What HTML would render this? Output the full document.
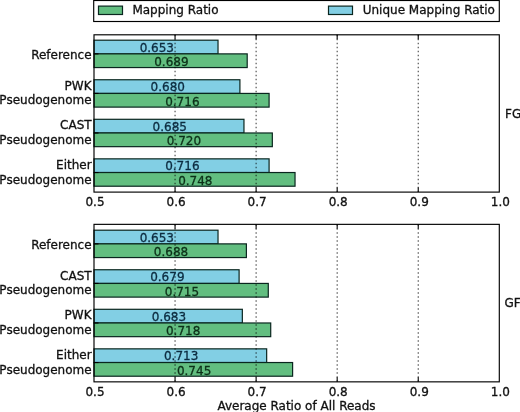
<!DOCTYPE html>
<html lang="en"><head><meta charset="utf-8"><title>Mapping Ratio</title>
<style>html,body{margin:0;padding:0;background:#fff;overflow:hidden}svg{display:block;will-change:transform}text{font-family:"DejaVu Sans","Liberation Sans",sans-serif;font-size:12px;fill:#111;stroke:#111;stroke-width:.3px}.ax{fill:none;stroke:#000;stroke-width:1.15}.tk{stroke:#000;stroke-width:1.1}.gr{stroke:#000;stroke-opacity:.72;stroke-width:1.1;stroke-dasharray:1.5 2.5}.b{fill:#82cfe4;stroke:#0a261f;stroke-width:1.2}.g{fill:#62be80;stroke:#0a261f;stroke-width:1.2}.vb{fill:#0c2c40;stroke:#0c2c40}.vg{fill:#0c3018;stroke:#0c3018}</style></head><body>
<svg width="520" height="412" viewBox="0 0 520 412">
<rect x="0" y="0" width="520" height="412" fill="#fff"/>
<rect class="ax" x="93.7" y="0.5" width="405.6" height="21"/>
<rect class="g" x="98.5" y="6.1" width="24" height="8.4"/>
<text x="132.4" y="14.3">Mapping Ratio</text>
<rect class="b" x="328.5" y="6.1" width="24" height="8.4"/>
<text x="362.7" y="14.3">Unique Mapping Ratio</text>
<rect class="b" x="94" y="40.20" width="124.02" height="13.68"/>
<rect class="g" x="94" y="53.88" width="153.20" height="13.68"/>
<rect class="b" x="94" y="79.75" width="145.91" height="13.68"/>
<rect class="g" x="94" y="93.43" width="175.09" height="13.68"/>
<rect class="b" x="94" y="119.30" width="149.96" height="13.68"/>
<rect class="g" x="94" y="132.98" width="178.33" height="13.68"/>
<rect class="b" x="94" y="158.85" width="175.09" height="13.68"/>
<rect class="g" x="94" y="172.53" width="201.03" height="13.68"/>
<line class="gr" x1="175.06" y1="34.8" x2="175.06" y2="192.1"/>
<line class="tk" x1="175.06" y1="34.8" x2="175.06" y2="39.3"/>
<line class="tk" x1="175.06" y1="192.1" x2="175.06" y2="187.6"/>
<line class="gr" x1="256.12" y1="34.8" x2="256.12" y2="192.1"/>
<line class="tk" x1="256.12" y1="34.8" x2="256.12" y2="39.3"/>
<line class="tk" x1="256.12" y1="192.1" x2="256.12" y2="187.6"/>
<line class="gr" x1="337.18" y1="34.8" x2="337.18" y2="192.1"/>
<line class="tk" x1="337.18" y1="34.8" x2="337.18" y2="39.3"/>
<line class="tk" x1="337.18" y1="192.1" x2="337.18" y2="187.6"/>
<line class="gr" x1="418.24" y1="34.8" x2="418.24" y2="192.1"/>
<line class="tk" x1="418.24" y1="34.8" x2="418.24" y2="39.3"/>
<line class="tk" x1="418.24" y1="192.1" x2="418.24" y2="187.6"/>
<text class="vb" text-anchor="middle" x="156.81" y="51.55">0.653</text>
<text class="vg" text-anchor="middle" x="171.40" y="65.98">0.689</text>
<line class="tk" x1="94" y1="53.88" x2="98.5" y2="53.88"/>
<text text-anchor="end" x="91.6" y="59.28">Reference</text>
<text class="vb" text-anchor="middle" x="167.75" y="91.10">0.680</text>
<text class="vg" text-anchor="middle" x="182.34" y="105.53">0.716</text>
<line class="tk" x1="94" y1="93.43" x2="98.5" y2="93.43"/>
<text text-anchor="end" x="91.6" y="89.63">PWK</text>
<text text-anchor="end" x="91.6" y="104.23">Pseudogenome</text>
<text class="vb" text-anchor="middle" x="169.78" y="130.65">0.685</text>
<text class="vg" text-anchor="middle" x="183.97" y="145.08">0.720</text>
<line class="tk" x1="94" y1="132.98" x2="98.5" y2="132.98"/>
<text text-anchor="end" x="91.6" y="129.38">CAST</text>
<text text-anchor="end" x="91.6" y="143.98">Pseudogenome</text>
<text class="vb" text-anchor="middle" x="182.34" y="170.20">0.716</text>
<text class="vg" text-anchor="middle" x="195.31" y="184.63">0.748</text>
<line class="tk" x1="94" y1="172.53" x2="98.5" y2="172.53"/>
<text text-anchor="end" x="91.6" y="169.13">Either</text>
<text text-anchor="end" x="91.6" y="183.73">Pseudogenome</text>
<rect class="ax" x="94" y="34.8" width="405.3" height="157.3"/>
<text text-anchor="middle" x="95.00" y="205.60">0.5</text>
<text text-anchor="middle" x="176.06" y="205.60">0.6</text>
<text text-anchor="middle" x="257.12" y="205.60">0.7</text>
<text text-anchor="middle" x="338.18" y="205.60">0.8</text>
<text text-anchor="middle" x="419.24" y="205.60">0.9</text>
<text text-anchor="middle" x="500.30" y="205.60">1.0</text>
<text x="505" y="118.05">FG</text>
<rect class="b" x="94" y="230.20" width="124.02" height="13.68"/>
<rect class="g" x="94" y="243.88" width="152.39" height="13.68"/>
<rect class="b" x="94" y="269.75" width="145.10" height="13.68"/>
<rect class="g" x="94" y="283.43" width="174.28" height="13.68"/>
<rect class="b" x="94" y="309.30" width="148.34" height="13.68"/>
<rect class="g" x="94" y="322.98" width="176.71" height="13.68"/>
<rect class="b" x="94" y="348.85" width="172.66" height="13.68"/>
<rect class="g" x="94" y="362.53" width="198.60" height="13.68"/>
<line class="gr" x1="175.06" y1="224.35" x2="175.06" y2="381.85"/>
<line class="tk" x1="175.06" y1="224.35" x2="175.06" y2="228.85"/>
<line class="tk" x1="175.06" y1="381.85" x2="175.06" y2="377.35"/>
<line class="gr" x1="256.12" y1="224.35" x2="256.12" y2="381.85"/>
<line class="tk" x1="256.12" y1="224.35" x2="256.12" y2="228.85"/>
<line class="tk" x1="256.12" y1="381.85" x2="256.12" y2="377.35"/>
<line class="gr" x1="337.18" y1="224.35" x2="337.18" y2="381.85"/>
<line class="tk" x1="337.18" y1="224.35" x2="337.18" y2="228.85"/>
<line class="tk" x1="337.18" y1="381.85" x2="337.18" y2="377.35"/>
<line class="gr" x1="418.24" y1="224.35" x2="418.24" y2="381.85"/>
<line class="tk" x1="418.24" y1="224.35" x2="418.24" y2="228.85"/>
<line class="tk" x1="418.24" y1="381.85" x2="418.24" y2="377.35"/>
<text class="vb" text-anchor="middle" x="156.81" y="241.55">0.653</text>
<text class="vg" text-anchor="middle" x="171.00" y="255.98">0.688</text>
<line class="tk" x1="94" y1="243.88" x2="98.5" y2="243.88"/>
<text text-anchor="end" x="91.6" y="249.28">Reference</text>
<text class="vb" text-anchor="middle" x="167.35" y="281.10">0.679</text>
<text class="vg" text-anchor="middle" x="181.94" y="295.53">0.715</text>
<line class="tk" x1="94" y1="283.43" x2="98.5" y2="283.43"/>
<text text-anchor="end" x="91.6" y="279.63">CAST</text>
<text text-anchor="end" x="91.6" y="294.23">Pseudogenome</text>
<text class="vb" text-anchor="middle" x="168.97" y="320.65">0.683</text>
<text class="vg" text-anchor="middle" x="183.16" y="335.08">0.718</text>
<line class="tk" x1="94" y1="322.98" x2="98.5" y2="322.98"/>
<text text-anchor="end" x="91.6" y="319.38">PWK</text>
<text text-anchor="end" x="91.6" y="333.98">Pseudogenome</text>
<text class="vb" text-anchor="middle" x="181.13" y="360.20">0.713</text>
<text class="vg" text-anchor="middle" x="194.10" y="374.63">0.745</text>
<line class="tk" x1="94" y1="362.53" x2="98.5" y2="362.53"/>
<text text-anchor="end" x="91.6" y="359.13">Either</text>
<text text-anchor="end" x="91.6" y="373.73">Pseudogenome</text>
<rect class="ax" x="94" y="224.35" width="405.3" height="157.5"/>
<text text-anchor="middle" x="95.00" y="395.50">0.5</text>
<text text-anchor="middle" x="176.06" y="395.50">0.6</text>
<text text-anchor="middle" x="257.12" y="395.50">0.7</text>
<text text-anchor="middle" x="338.18" y="395.50">0.8</text>
<text text-anchor="middle" x="419.24" y="395.50">0.9</text>
<text text-anchor="middle" x="500.30" y="395.50">1.0</text>
<text x="504.5" y="307.10">GF</text>
<text text-anchor="middle" x="296.5" y="410">Average Ratio of All Reads</text>
</svg></body></html>
